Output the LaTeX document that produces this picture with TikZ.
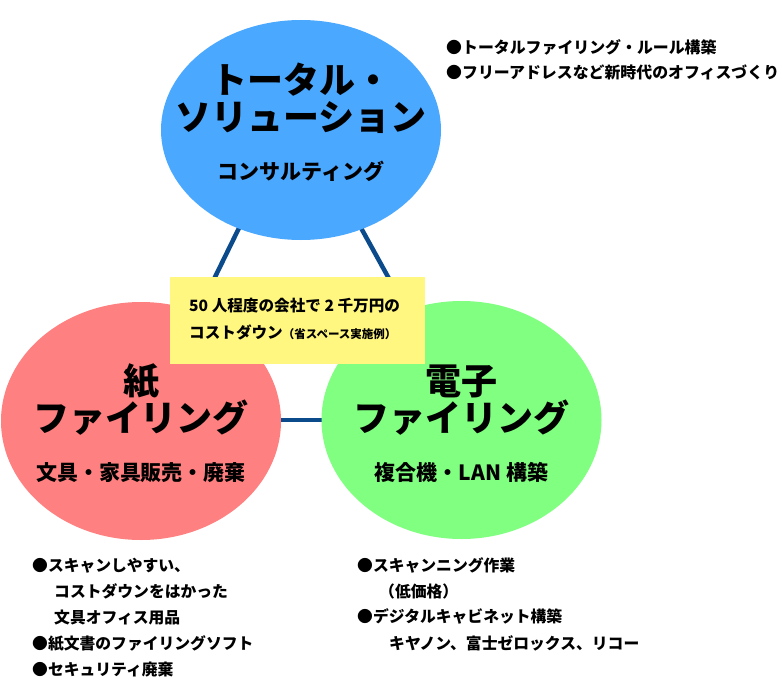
\documentclass[tikz,border=0pt]{standalone}
\usepackage{fontspec}
\setmainfont{Noto Sans CJK JP}
\usetikzlibrary{shapes.geometric}
\definecolor{cblue}{HTML}{4AA8FF}
\definecolor{cred}{HTML}{FF8080}
\definecolor{cgreen}{HTML}{80FF80}
\definecolor{cyellow}{HTML}{FFF77F}
\definecolor{clink}{HTML}{0B4A8B}
\begin{document}
\begin{tikzpicture}[x=1pt,y=-1pt,
  link/.style={draw=clink, line width=4.5pt},
  blob/.style={ellipse, inner sep=0pt, minimum width=280pt},
  big/.style={inner sep=0pt, anchor=base, font=\bfseries\fontsize{36}{36}\selectfont},
  sub/.style={inner sep=0pt, anchor=base, font=\bfseries\fontsize{21}{21}\selectfont},
  note/.style={inner sep=0pt, anchor=base west, font=\bfseries\fontsize{15.6}{15.6}\selectfont},
  tnote/.style={inner sep=0pt, anchor=base west, font=\bfseries\fontsize{15.9}{15.9}\selectfont},
  lnote/.style={inner sep=0pt, anchor=base west, font=\bfseries\fontsize{15.8}{15.8}\selectfont}]
\useasboundingbox[fill=white] (0,0) rectangle (782,693);
% connectors
\coordinate (tl) at (287,130);
\coordinate (tr) at (307,130);
\coordinate (bl) at (145,420);
\coordinate (br) at (467,420);
\draw[link] (tl) -- (bl);
\draw[link] (tr) -- (br);
\draw[link] (bl) -- (br);
% circles
\node[blob, fill=cblue, minimum height=220pt] (top) at (301,130) {};
\node[blob, fill=cred, minimum height=238pt] (left) at (141,421) {};
\node[blob, fill=cgreen, minimum height=238pt] (right) at (461.5,420) {};
% yellow box
\node[fill=cyellow, inner sep=0pt, minimum width=255pt, minimum height=87pt, anchor=north west] (box) at (170,277) {};
% top circle text
\node[big] (t1) at (301,93.5) {トータル・};
\node[big] (t2) at (301,130.5) {ソリューション};
\node[sub] (t3) at (301,179) {コンサルティング};
% left circle text
\node[big] (l1) at (141,394.5) {紙};
\node[big] (l2) at (141,431.5) {ファイリング};
\node[sub] (l3) at (141,480) {文具・家具販売・廃棄};
% right circle text
\node[big] (r1) at (461.5,394.5) {電子};
\node[big] (r2) at (461.5,431.5) {ファイリング};
\node[sub] (r3) at (461.5,480) {複合機・LAN 構築};
% yellow text
\node[note] (y1) at (189,311) {50 人程度の会社で 2 千万円の};
\node[note] (y2) at (189,338) {コストダウン{\fontsize{11.5}{11.5}\selectfont（省スペース実施例）}};
% top right notes
\node[tnote] (n1) at (446,54) {●トータルファイリング・ルール構築};
\node[tnote] (n2) at (446,79) {●フリーアドレスなど新時代のオフィスづくり};
% bottom left notes
\node[lnote] (a1) at (32,571.5) {●スキャンしやすい、};
\node[lnote] (a2) at (54,597.5) {コストダウンをはかった};
\node[lnote] (a3) at (54,623.5) {文具オフィス用品};
\node[lnote] (a4) at (32,649.5) {●紙文書のファイリングソフト};
\node[lnote] (a5) at (32,675) {●セキュリティ廃棄};
% bottom right notes
\node[lnote] (b1) at (357,571.5) {●スキャンニング作業};
\node[lnote] (b2) at (379,597) {（低価格）};
\node[lnote] (b3) at (357,622) {●デジタルキャビネット構築};
\node[lnote] (b4) at (389,649) {キヤノン、富士ゼロックス、リコー};
\end{tikzpicture}
\end{document}
